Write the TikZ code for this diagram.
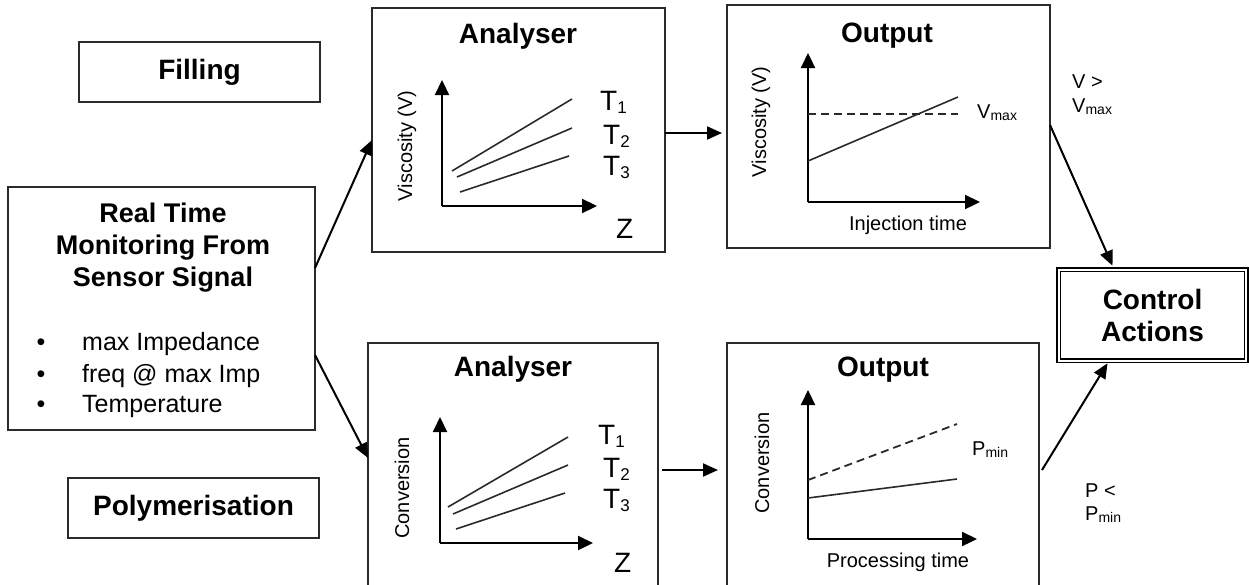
\documentclass[tikz,border=0pt]{standalone}
\usepackage{fontspec}
\setmainfont{Liberation Sans}
\usetikzlibrary{arrows.meta}
\newcommand\fsz[1]{\fontsize{#1}{#1}\selectfont}
\newcommand\fszs[2]{\fontsize{#1}{#2}\selectfont}
\newcommand\tsub[1]{\raisebox{-3pt}{\fsz{17}#1}}
\newcommand\ssub[1]{\raisebox{-2pt}{\fsz{14}#1}}
\definecolor{linegray}{HTML}{2A2A2A}
\begin{document}
\begin{tikzpicture}[x=1pt,y=-1pt,
  box/.style={draw=linegray, line width=2pt, inner sep=0pt, outer sep=0pt},
  ttl/.style={font={\bfseries\fsz{28}}, inner sep=0pt, anchor=base},
  axlab/.style={font={\fsz{20}}, inner sep=0pt, rotate=90},
  tlab/.style={font={\fsz{28}}, inner sep=0pt, anchor=base west},
  small/.style={font={\fsz{20}}, inner sep=0pt, anchor=base west},
  axisarrow/.style={line width=2.2pt, -{Triangle[length=15pt 0 0,width=14pt 0 0]}},
  curve/.style={line width=1.6pt, draw=linegray},
  dashcurve/.style={line width=1.8pt, draw=linegray, dash pattern=on 8pt off 5pt},
  conn/.style={line width=2pt, -{Triangle[length=15pt 0 0,width=13pt 0 0]}}
]
\useasboundingbox (0,0) rectangle (1249,584);
\clip (0,0) rectangle (1249,584);

% left boxes
\node[box, minimum width=241pt, minimum height=60pt, font={\bfseries\fsz{28}}] (fill) at (199.5,72) {Filling};
\node[box, minimum width=251pt, minimum height=60pt, font={\bfseries\fsz{28}}] (poly) at (193.5,508) {Polymerisation};
\node[box, minimum width=307pt, minimum height=243pt] (rt) at (161.5,308.5) {};
\node[ttl, align=center, font={\bfseries\fszs{27}{32}}] (rttl) at (163,286) {Real Time\\Monitoring From\\Sensor Signal};
\node[font={\fsz{25}}, inner sep=0pt, anchor=base] (b1) at (41,350) {\textbullet};
\node[font={\fsz{25}}, inner sep=0pt, anchor=base] (b2) at (41,382) {\textbullet};
\node[font={\fsz{25}}, inner sep=0pt, anchor=base] (b3) at (41,412) {\textbullet};
\node[font={\fsz{25}}, inner sep=0pt, anchor=base west] (i1) at (82,350) {max Impedance};
\node[font={\fsz{25}}, inner sep=0pt, anchor=base west] (i2) at (82,382) {freq @ max Imp};
\node[font={\fsz{25}}, inner sep=0pt, anchor=base west] (i3) at (82,412) {Temperature};

% analyser / output boxes
\node[box, minimum width=293pt, minimum height=244pt] (an1) at (518.5,130) {};
\node[box, minimum width=323pt, minimum height=243pt] (out1) at (888.5,126.5) {};
\node[box, minimum width=290pt, minimum height=277pt] (an2) at (513,481.5) {};
\node[box, minimum width=312pt, minimum height=277pt] (out2) at (883,481.5) {};
\node[ttl] (an1t) at (518,43) {Analyser};
\node[ttl] (out1t) at (887,42) {Output};
\node[ttl] (an2t) at (513,376) {Analyser};
\node[ttl] (out2t) at (883,376) {Output};

% control actions
\node[draw=black, line width=1.6pt, double=white, double distance=2pt,
      minimum width=187.5pt, minimum height=91pt, inner sep=0pt,
      align=center, font={\bfseries\fszs{28}{32}}] (ctrl) at (1152.5,315) {Control\\Actions};

% plot 1: analyser top
\coordinate (o1) at (442,206);
\draw[axisarrow] (o1) -- (442,80);
\draw[axisarrow] (o1) -- (597,206);
\draw[curve] (452,171) -- (572,99);
\draw[curve] (457,177) -- (572,128);
\draw[curve] (460,192) -- (569,156);
\node[tlab] (t11) at (600,110) {T\tsub{1}};
\node[tlab] (t12) at (603,144) {T\tsub{2}};
\node[tlab] (t13) at (603,175) {T\tsub{3}};
\node[tlab] (z1) at (616,238) {Z};
\node[axlab] (vl1) at (407,146) {Viscosity (V)};

% plot 2: output top
\coordinate (o2) at (808,202);
\draw[axisarrow] (o2) -- (808,53);
\draw[axisarrow] (o2) -- (980,202);
\draw[dashcurve] (808,114) -- (958,114);
\draw[curve] (808,161) -- (958,97);
\node[small] (vmax) at (977,118) {V\ssub{max}};
\node[font={\fsz{20}}, inner sep=0pt, anchor=base] (inj) at (908,230) {Injection time};
\node[axlab] (vl2) at (761,122) {Viscosity (V)};

% plot 3: analyser bottom
\coordinate (o3) at (440,543);
\draw[axisarrow] (o3) -- (440,417);
\draw[axisarrow] (o3) -- (593,543);
\draw[curve] (448,507) -- (568,437);
\draw[curve] (453,514) -- (568,465);
\draw[curve] (456,529) -- (565,493);
\node[tlab] (t31) at (598,444) {T\tsub{1}};
\node[tlab] (t32) at (603,477) {T\tsub{2}};
\node[tlab] (t33) at (603,508) {T\tsub{3}};
\node[tlab] (z3) at (614,572) {Z};
\node[axlab] (cl3) at (402,488) {Conversion};

% plot 4: output bottom
\coordinate (o4) at (808,539);
\draw[axisarrow] (o4) -- (808,390);
\draw[axisarrow] (o4) -- (977,539);
\draw[dashcurve] (808,480) -- (957,424);
\draw[curve] (808,498) -- (957,479);
\node[small] (pmin) at (972,455) {P\ssub{min}};
\node[font={\fsz{20}}, inner sep=0pt, anchor=base] (proc) at (898,567) {Processing time};
\node[axlab] (cl4) at (762,463) {Conversion};

% condition labels
\node[small] (vgt) at (1072,88) {V >};
\node[small] (vgt2) at (1072,112) {V\ssub{max}};
\node[small] (plt) at (1085,497) {P <};
\node[small] (plt2) at (1085,520) {P\ssub{min}};

% connectors
\draw[conn] ([yshift=40.5pt]rt.east) -- ([yshift=-10pt]an1.west);
\draw[conn] ([yshift=-46.5pt]rt.east) -- ([yshift=23.5pt]an2.west);
\draw[conn] ([yshift=-3pt]an1.east) -- ([yshift=-6.5pt,xshift=-5pt]out1.west);
\draw[conn] ([yshift=11.5pt,xshift=4pt]an2.east) -- ([yshift=11.5pt,xshift=-9pt]out2.west);
\draw[conn] ([yshift=1.5pt]out1.east) -- ([xshift=-40pt,yshift=3pt]ctrl.north);
\draw[conn] ([yshift=11.5pt,xshift=3pt]out2.east) -- ([xshift=-45pt,yshift=-2pt]ctrl.south);
\end{tikzpicture}
\end{document}
